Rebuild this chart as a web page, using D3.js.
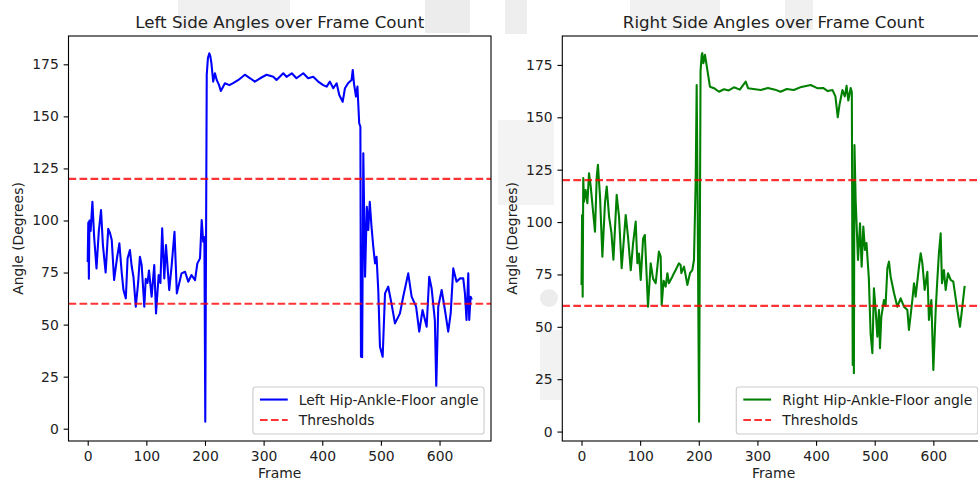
<!DOCTYPE html>
<html>
<head>
<meta charset="utf-8">
<script src="https://cdn.jsdelivr.net/npm/d3@7"></script>
<style>
  html, body { margin: 0; padding: 0; background: #fff; }
  svg { display: block; }
  text { font-family: "DejaVu Sans", sans-serif; fill: #222; }
</style>
</head>
<body>
<svg id="chart" width="978" height="484"></svg>
<script>
// ---------- DATA ----------
const xTicks = [0, 100, 200, 300, 400, 500, 600];
const yTicks = [0, 25, 50, 75, 100, 125, 150, 175];
const thresholds = [120, 60];

const leftFrames = [0,1,2,3,5,8,11,15,19,22.7,26,30.6,35,38,41,45,50,54,58,61,65,68,72,75,78,82,86,89,92,96.5,99,102,104.5,109,113.5,116.5,121,124,127,130.6,133.5,139,143,148,152,156,160,166,171.5,177,183,187,191.5,194.4,197,199,200.5,203,205,207.4,209,211,214,217,220,224,227,234,241.5,248,257,268,277,285,294,305,316.5,322,333.5,339,348,356,367.6,376,384.6,393,401.7,407.5,413,418.8,424.5,429,434.8,438.7,444.3,450,452,454,457.5,460,463,465,466,468,470,473,476,478.5,481,484,487,490,492.6,495.5,498.4,503,507,512.5,518,524,532.5,538,546.6,552.4,560,565.4,571,578,582.4,586.5,592,594.4,597.8,603.6,609.2,614.8,619,623.4,629,635,640.4,643.3,646,649,650.6,653,655];
const leftValues = [80,99,72,100,95,109,92,77,95,105,88,75,96,94,90.6,71.4,82,89,75,66.6,62.6,81.8,85.8,78,73,58.6,70,82.6,78.6,58.6,72,70,76,63.4,78.6,55.4,73.8,70,96.3,72.2,88.2,66.6,77.8,94.6,65,69.8,74.6,75.4,70.6,73.8,71.4,79.4,81.8,100.2,89.8,92,3.4,170,178,180.3,179,175.5,166.7,170.7,167.5,165,162.2,165.9,165,166,167.5,170,168.3,166.7,168.3,170,169,167.5,170.7,169,170.7,168.3,170.7,168.3,169,166.7,165,164.3,166.7,163.5,165.9,160.3,157,163.5,166,167.5,172.3,166,159.5,164.3,146.7,145,34.6,34.4,132.3,73,106.6,95.4,109,97,87.4,79.4,82.6,66.6,39.4,34.6,65,68.2,60.2,50.6,55.4,63.4,74.6,63.4,58.6,46.6,57,49,73,67.4,52.2,20.2,58.6,66.6,57,46.6,55.4,77,70.6,72.2,72.2,65,52.2,74.6,52.2,63.4,62];

const rightFrames = [0,1,2,3,4.3,7,10,12.8,15.7,20,23,26,28,31.6,35.6,40,43,47,51,54.4,60,64,68.5,75.4,79.3,84,88,92.4,95.3,98,101,105,108,111,113.4,118,122,126.5,132,135,136.7,140,143.5,146.5,149,155,157.7,160.6,166,169,170.3,174.8,178,180.5,185,189,191.8,194.7,196.4,198,200.5,203,205,206,207.8,210.6,214.6,219,226,234.5,243,251,260,270,280,284,293,305.5,318,330,339.6,350,362,375,390.8,402,412,420,428,433,437,440,445,449,452,455,459,461,462.5,463.5,464.5,465.5,467.5,471.5,475,477.7,480.6,483.4,486,490,493,496,498.7,501.6,504.5,507.3,509,511.3,515.8,518.5,521.6,524.3,527.2,533,538.6,544.2,550,555.7,558.4,564.2,567,569.8,575.5,578.4,581.3,585.2,589.8,592.5,596.6,600,604,606.8,609.5,612.5,614.7,618,621,625,629.5,634,641,645.4,649.5,653.4];
const rightValues = [70,103.4,64.4,121,109.7,115.3,109,123.3,117,104.2,95.4,121.7,127.3,112,83.5,109,117,102.6,95,82,113,102.6,78,103.4,93,77,90,100.2,80.3,85,72.4,92,93.8,75,59.6,80.3,73,70.8,85.9,83.5,60.4,72,69.2,75.6,70.8,74,75.6,77.1,80.3,79.5,75.6,78.7,74,70,75.6,77.1,81.9,119.3,165.4,110,4.7,172,179.8,180.6,175.8,179.8,172.6,164.6,163.9,162.2,163.4,162.8,164.3,163.2,167,163.9,163.5,163,164,163.2,162.2,163.5,163,164.5,165.4,163.9,164,162.5,163,160,150,156,163,160,165,158,164,162,31.8,120,27.8,136.7,110.5,81.9,99.4,78.7,97.8,86.7,90,73.2,46.9,37.4,68.4,58,45.3,58,39.8,54.8,62.8,60,77.9,81.1,73.9,66,59.6,63.6,59.6,58,48.5,62.8,70.8,64.4,78.7,85.1,80.3,67.6,76.3,53.3,62.8,29.4,58,72.4,85.1,94.6,70.8,77.1,67.6,75.6,72.4,71.6,58,50,59.6,69.5];

const panels = [
  { title: "Left Side Angles over Frame Count", label: "Left Hip-Ankle-Floor angle",
    frames: leftFrames, values: leftValues, color: "#0000ff",
    left: 68.5, yDomain: [-5.9, 188.6] },
  { title: "Right Side Angles over Frame Count", label: "Right Hip-Ankle-Floor angle",
    frames: rightFrames, values: rightValues, color: "#008000",
    left: 562.3, yDomain: [-4.5, 188.8] }
];

// ---------- LAYOUT ----------
const svg = d3.select("#chart");
const W = 422.5, TOP = 36, BOTTOM = 441;
const FS = 13.9;

// faint background watermark (outside the axes)
const wm = svg.append("g").attr("class", "watermark");
[[178,0,112,30,"#f0f0f0"],[425,0,45,33,"#ececec"],[505,0,22,34,"#eeeeee"],[630,0,90,30,"#f1f1f1"],
 [785,0,28,30,"#f0f0f0"],[498,120,56,85,"#f3f3f3"],[540,330,22,70,"#f2f2f2"]].forEach(r => {
  wm.append("rect").attr("x", r[0]).attr("y", r[1]).attr("width", r[2]).attr("height", r[3]).attr("fill", r[4]);
});
wm.append("circle").attr("cx", 549).attr("cy", 298).attr("r", 9).attr("fill", "#ececec");

panels.forEach((p, i) => {
  const x = d3.scaleLinear().domain([-32.75, 687.75]).range([p.left, p.left + W]);
  const y = d3.scaleLinear().domain(p.yDomain).range([BOTTOM, TOP]);
  const g = svg.append("g");

  g.append("rect").attr("x", p.left).attr("y", TOP).attr("width", W).attr("height", BOTTOM - TOP).attr("fill", "#fff");

  const clipId = "clip" + i;
  svg.append("clipPath").attr("id", clipId).append("rect")
    .attr("x", p.left).attr("y", TOP).attr("width", W).attr("height", BOTTOM - TOP);

  const pts = p.frames.map((f, k) => [f, p.values[k]]);
  g.append("path").datum(pts)
    .attr("clip-path", `url(#${clipId})`)
    .attr("fill", "none").attr("stroke", p.color).attr("stroke-width", 2.08)
    .attr("stroke-linejoin", "round")
    .attr("d", d3.line().x(d => x(d[0])).y(d => y(d[1])));

  thresholds.forEach(t => {
    g.append("line").attr("clip-path", `url(#${clipId})`)
      .attr("x1", p.left).attr("x2", p.left + W).attr("y1", y(t)).attr("y2", y(t))
      .attr("stroke", "red").attr("stroke-opacity", 0.8).attr("stroke-width", 2.08)
      .attr("stroke-dasharray", "7.7,3.3");
  });

  const xa = g.append("g").attr("transform", `translate(0,${BOTTOM})`)
    .call(d3.axisBottom(x).tickValues(xTicks).tickFormat(d3.format("d")).tickSize(4.86).tickPadding(4.86).tickSizeOuter(0));
  const ya = g.append("g").attr("transform", `translate(${p.left},0)`)
    .call(d3.axisLeft(y).tickValues(yTicks).tickFormat(d3.format("d")).tickSize(4.86).tickPadding(4.86).tickSizeOuter(0));
  [xa, ya].forEach(a => {
    a.select(".domain").remove();
    a.selectAll(".tick line").attr("stroke", "#000").attr("stroke-width", 1.1);
    a.selectAll(".tick text").attr("font-size", FS).attr("font-family", "DejaVu Sans").attr("fill", "#222");
  });

  g.append("rect").attr("x", p.left).attr("y", TOP).attr("width", W).attr("height", BOTTOM - TOP)
    .attr("fill", "none").attr("stroke", "#000").attr("stroke-width", 1.1);

  g.append("text").attr("x", p.left + W / 2).attr("y", 27.7).attr("text-anchor", "middle")
    .attr("font-size", 16.7).text(p.title);
  g.append("text").attr("x", p.left + W / 2).attr("y", 478).attr("text-anchor", "middle")
    .attr("font-size", FS).text("Frame");
  g.append("text").attr("transform", `translate(${p.left - 45.5},${(TOP + BOTTOM) / 2}) rotate(-90)`)
    .attr("text-anchor", "middle").attr("font-size", FS).text("Angle (Degrees)");

  const lg = g.append("g");
  const boxRight = p.left + W - 6.95, boxBottom = BOTTOM - 6.95;
  const t1 = lg.append("text").attr("font-size", FS).text(p.label);
  const t2 = lg.append("text").attr("font-size", FS).text("Thresholds");
  const tw = Math.max(t1.node().getComputedTextLength(), t2.node().getComputedTextLength());
  const textStart = boxRight - 5.56 - tw;
  const boxLeft = textStart - 45.9;
  const boxTop = boxBottom - 47;
  lg.insert("rect", "text").attr("x", boxLeft).attr("y", boxTop).attr("width", boxRight - boxLeft).attr("height", boxBottom - boxTop)
    .attr("rx", 2.8).attr("fill", "#fff").attr("fill-opacity", 0.8).attr("stroke", "#cccccc").attr("stroke-width", 1.1);
  const row1 = boxTop + 12.5, row2 = boxTop + 33;
  t1.attr("x", textStart).attr("y", row1 + 5);
  t2.attr("x", textStart).attr("y", row2 + 5);
  lg.append("line").attr("x1", textStart - 11.1 - 27.8).attr("x2", textStart - 11.1).attr("y1", row1).attr("y2", row1)
    .attr("stroke", p.color).attr("stroke-width", 2.08);
  lg.append("line").attr("x1", textStart - 11.1 - 27.8).attr("x2", textStart - 11.1).attr("y1", row2).attr("y2", row2)
    .attr("stroke", "red").attr("stroke-opacity", 0.8).attr("stroke-width", 2.08).attr("stroke-dasharray", "7.7,3.3");
});
</script>
</body>
</html>
